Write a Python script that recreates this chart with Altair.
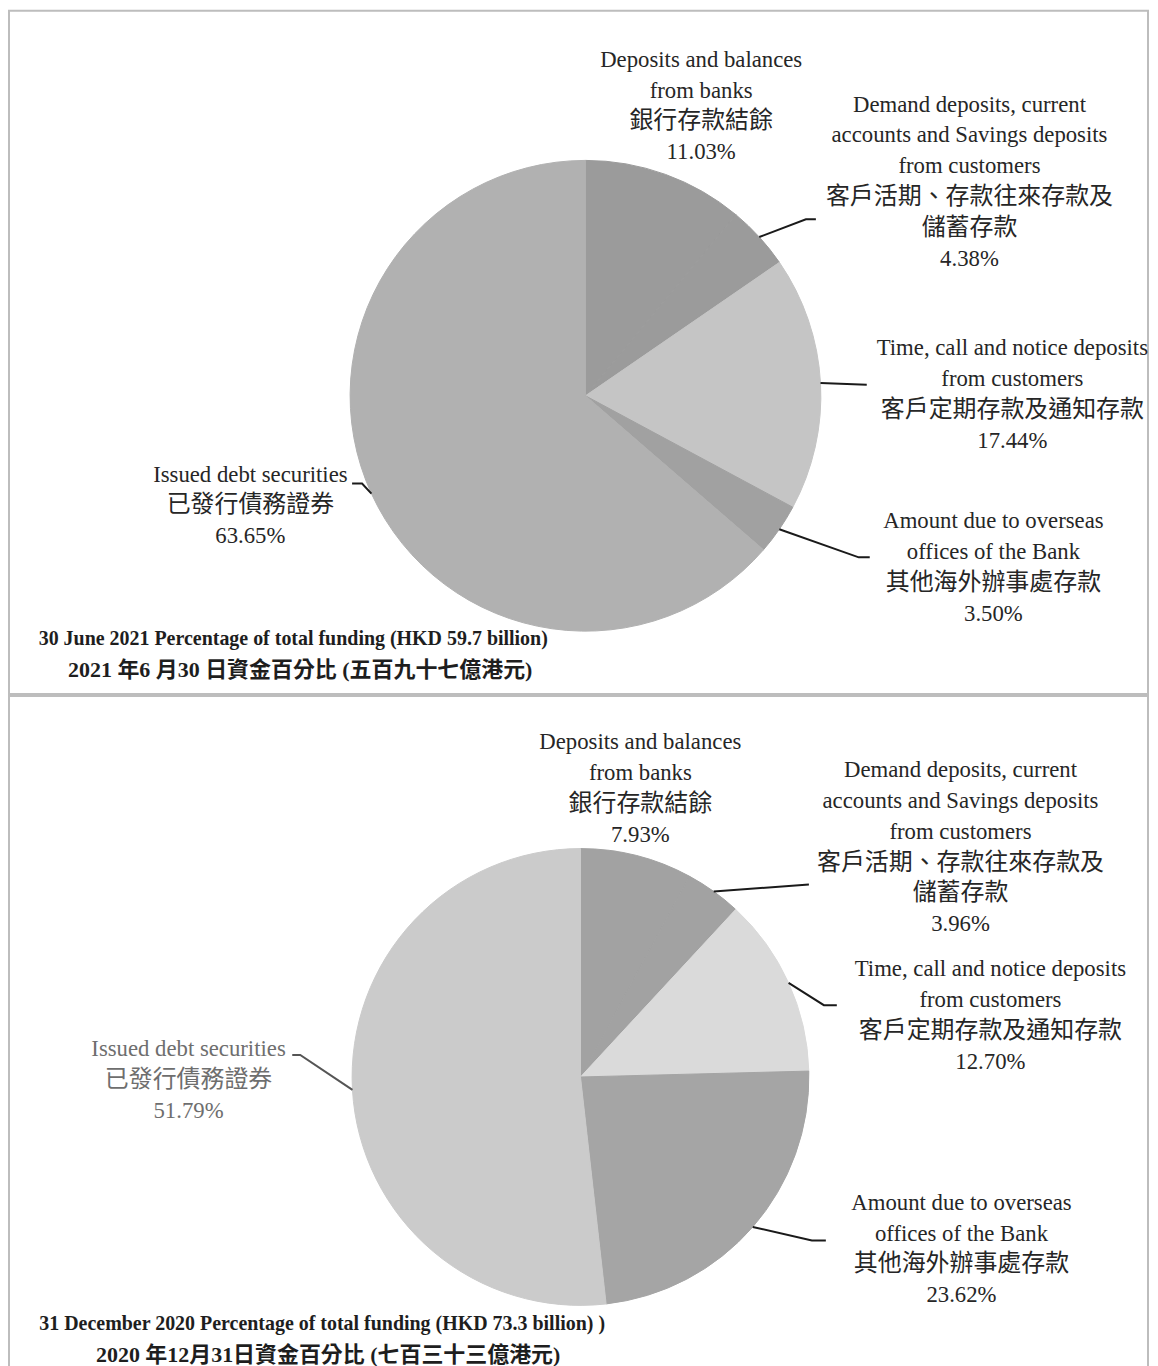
import math
import altair as alt
import pandas as pd

# ---------------- data ----------------
categories_en = [
    ["Deposits and balances", "from banks"],
    ["Demand deposits, current", "accounts and Savings deposits", "from customers"],
    ["Time, call and notice deposits", "from customers"],
    ["Amount due to overseas", "offices of the Bank"],
    ["Issued debt securities"],
]
categories_zh = [
    ["銀行存款結餘"],
    ["客戶活期、存款往來存款及", "儲蓄存款"],
    ["客戶定期存款及通知存款"],
    ["其他海外辦事處存款"],
    ["已發行債務證券"],
]
pct_2021 = [11.03, 4.38, 17.44, 3.50, 63.65]
pct_2020 = [7.93, 3.96, 12.70, 23.62, 51.79]
title_2021 = ["30 June 2021 Percentage of total funding (HKD 59.7 billion)",
              "2021 年6 月30 日資金百分比 (五百九十七億港元)"]
title_2020 = ["31 December 2020 Percentage of total funding (HKD 73.3 billion) )",
              "2020 年12月31日資金百分比 (七百三十三億港元)"]

# ---------------- styles / layout ----------------
colors_2021 = ["#9b9b9b", "#9b9b9b", "#c5c5c5", "#a1a1a1", "#b1b1b1"]
colors_2020 = ["#a2a2a2", "#a2a2a2", "#dadada", "#a5a5a5", "#cbcbcb"]
FONT = "Liberation Serif, Noto Sans CJK TC"
LH = 31
W = 1142

panels = [
    dict(pct=pct_2021, colors=colors_2021, title=title_2021, h=685,
         cx=578, cy=386, r=236,
         labels=[(694, 49), (963, 94), (1006, 338), (987, 512), (242, 465)],
         legs=[None, [(799, 209), (809, 209)], [(860, 375)],
               [(852, 548), (863, 548)], [(354, 474), (344, 474)]],
         txt=["#262626"] * 5, leg=["#1a1a1a"] * 5, title_xy=(285, 630), title2_x=292),
    dict(pct=pct_2020, colors=colors_2020, title=title_2020, h=673,
         cx=573, cy=382, r=229,
         labels=[(633, 46), (954, 74), (984, 274), (955, 508), (180, 354)],
         legs=[None, [(802, 189)], [(817, 310), (830, 310)],
               [(805, 546), (819, 546)], [(292, 360), (284, 360)]],
         txt=["#262626"] * 4 + ["#6e6e6e"], leg=["#1a1a1a"] * 4 + ["#555555"],
         title_xy=(314, 630), title2_x=320),
]


def build(p):
    n = len(p["pct"])
    total = sum(p["pct"])
    cats = [" ".join(e) for e in categories_en]
    pie_df = pd.DataFrame({"cat": cats, "value": p["pct"], "idx": list(range(n)),
                           "col": p["colors"]})
    pie = alt.Chart(pie_df).mark_arc(radius=p["r"], strokeWidth=1).encode(
        theta=alt.Theta("value:Q", stack=True),
        order=alt.Order("idx:Q"),
        color=alt.Color("col:N", scale=None),
        stroke=alt.Stroke("col:N", scale=None),
        x=alt.value(p["cx"]), y=alt.value(p["cy"]),
    )

    # leader lines: start at slice mid-angle on the pie rim
    rows = []
    cum = 0.0
    for i, v in enumerate(p["pct"]):
        mid = (cum + v / 2) / total * 2 * math.pi
        cum += v
        if p["legs"][i] is None:
            continue
        pts = [(p["cx"] + p["r"] * math.sin(mid), p["cy"] - p["r"] * math.cos(mid))] + p["legs"][i]
        for k, (x, y) in enumerate(pts):
            rows.append({"cat": cats[i], "k": k, "x": x, "y": y, "c": p["leg"][i]})
    lines = alt.Chart(pd.DataFrame(rows)).mark_line(strokeWidth=2).encode(
        x=alt.X("x:Q", scale=None, axis=None),
        y=alt.Y("y:Q", scale=None, axis=None),
        detail="cat:N", order="k:Q",
        color=alt.Color("c:N", scale=None),
    )

    trows = []
    for i, v in enumerate(p["pct"]):
        x0, y0 = p["labels"][i]
        lines_txt = [(t, 22.8) for t in categories_en[i]] + \
                    [(t, 24) for t in categories_zh[i]] + [(f"{v:.2f}%", 22.8)]
        for j, (t, s) in enumerate(lines_txt):
            trows.append({"x": x0, "y": y0 + j * LH, "t": t, "s": s, "c": p["txt"][i]})
    texts = alt.Chart(pd.DataFrame(trows)).mark_text(
        font=FONT, align="center", baseline="middle").encode(
        x=alt.X("x:Q", scale=None, axis=None),
        y=alt.Y("y:Q", scale=None, axis=None),
        text="t:N",
        size=alt.Size("s:Q", scale=None),
        color=alt.Color("c:N", scale=None),
    )

    tx, ty = p["title_xy"]
    tdf = pd.DataFrame({"x": [tx, p["title2_x"]], "y": [ty, ty + LH], "t": p["title"],
                        "s": [20, 22]})
    title = alt.Chart(tdf).mark_text(
        font=FONT, align="center", baseline="middle",
        fontWeight="bold", color="#1e1e1e").encode(
        x=alt.X("x:Q", scale=None, axis=None),
        y=alt.Y("y:Q", scale=None, axis=None),
        text="t:N",
        size=alt.Size("s:Q", scale=None),
    )
    return alt.layer(pie, lines, texts, title).properties(width=W, height=p["h"])


chart = alt.vconcat(build(panels[0]), build(panels[1]), spacing=0).properties(
    padding=0
).configure_view(stroke="#bdbdbd", strokeWidth=2)

chart.save("out.html", embed_options={"renderer": "svg", "actions": False})
